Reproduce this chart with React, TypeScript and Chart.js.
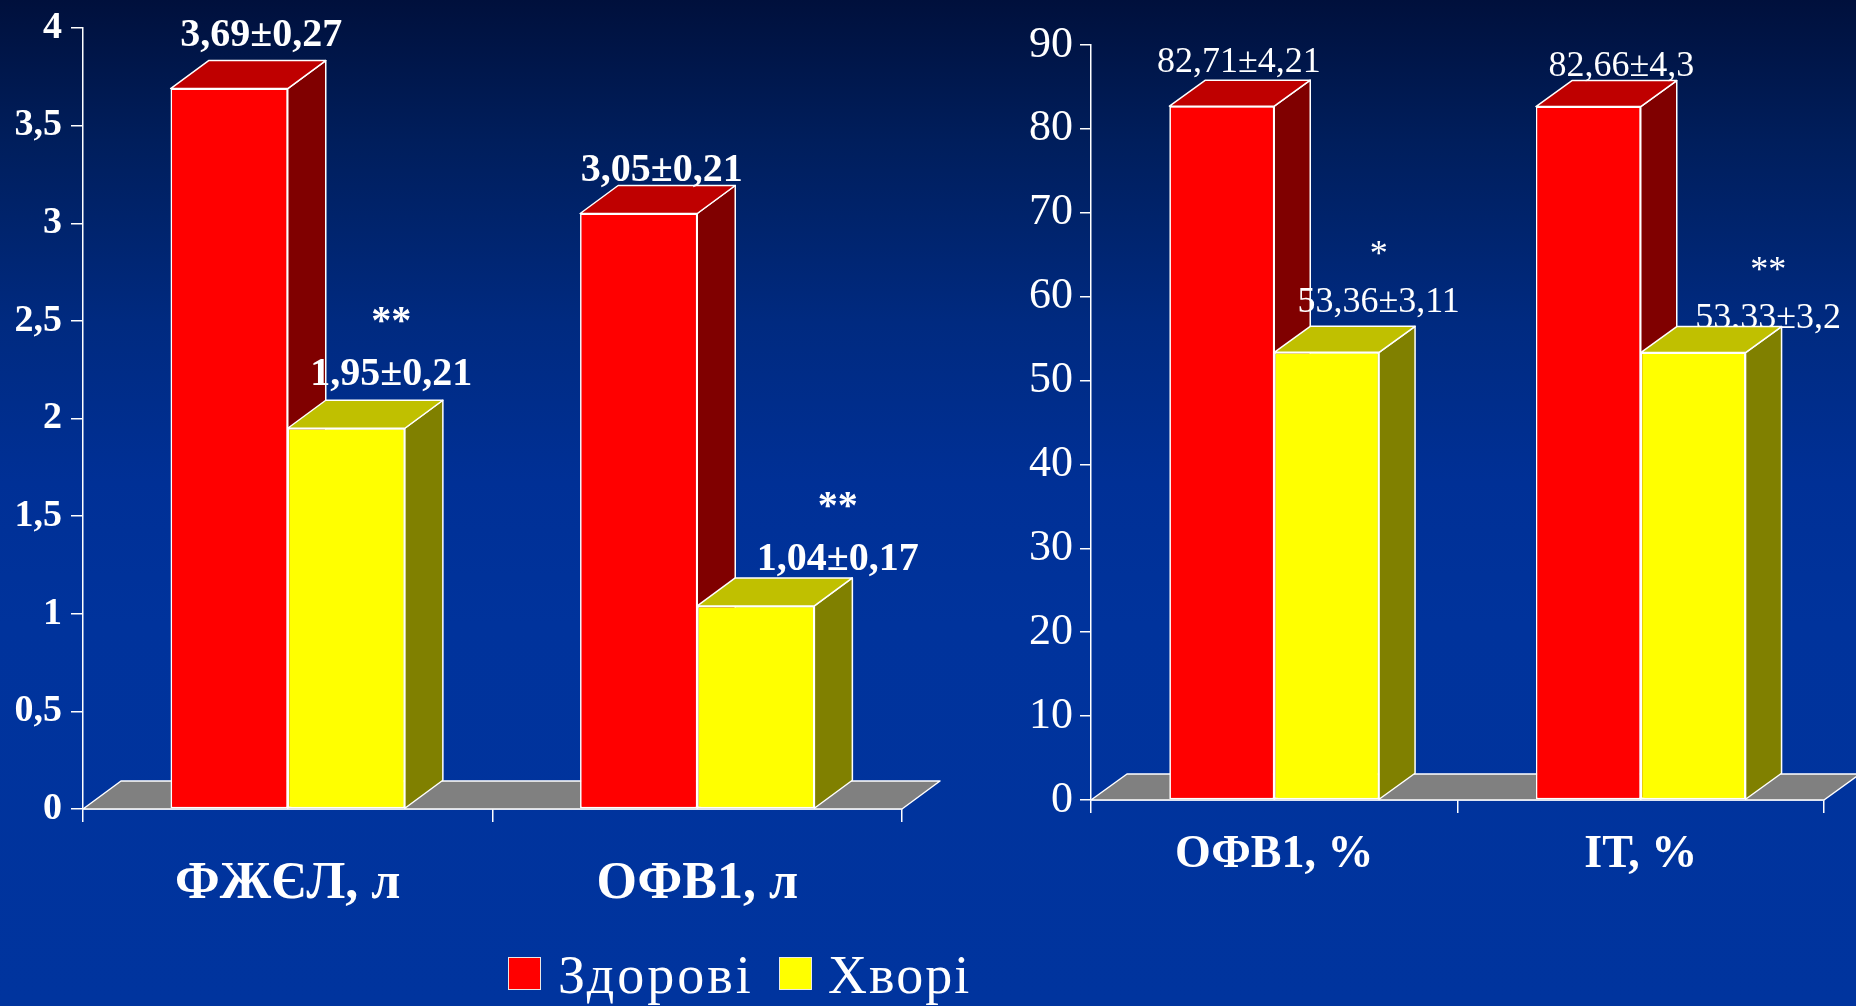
import React, { useEffect, useRef } from 'react';
import { Chart, registerables } from 'chart.js';

Chart.register(...registerables);

// ---- data ----
const seriesNames = ['Здорові', 'Хворі'];

const volumeCategories = ['ФЖЄЛ, л', 'ОФВ1, л'];
const volumeHealthy = [3.69, 3.05];
const volumeHealthySd = [0.27, 0.21];
const volumePatients = [1.95, 1.04];
const volumePatientsSd = [0.21, 0.17];
const volumeSignificance = ['**', '**'];
const volumeScale = { max: 4, step: 0.5 };

const percentCategories = ['ОФВ1, %', 'ІТ, %'];
const percentHealthy = [82.71, 82.66];
const percentHealthySd = [4.21, 4.3];
const percentPatients = [53.36, 53.33];
const percentPatientsSd = [3.11, 3.2];
const percentSignificance = ['*', '**'];
const percentScale = { max: 90, step: 10 };

// ---- styling ----
const SERIF = "'Times New Roman', 'Liberation Serif', serif";
const FRONT = ['#ff0000', '#ffff00'];
const TOP = ['#bf0000', '#c0c000'];
const SIDE = ['#800000', '#808000'];
const FLOOR = '#808080';
const EDGE = '#ffffff';

const comma = (v: number) => String(v).replace('.', ',');

type Panel = {
  categories: string[];
  values: number[][];
  spread: number[][];
  marks: string[];
  max: number;
  step: number;
  canvasW: number;
  canvasH: number;
  yWidth: number;
  xHeight: number;
  pad: { top: number; right: number; bottom: number };
  depth: [number, number];
  bold: boolean;
  tickSize: number;
  yTick: [number, number];
  xTick: [number, number];
  catSize: number;
  labelSize: number;
  // per series, per category nudges of the value captions (px)
  captionShift: number[][];
  captionLift: number[][];
  markGap: number;
};

const volumePanel: Panel = {
  categories: volumeCategories,
  values: [volumeHealthy, volumePatients],
  spread: [volumeHealthySd, volumePatientsSd],
  marks: volumeSignificance,
  max: volumeScale.max,
  step: volumeScale.step,
  canvasW: 960,
  canvasH: 940,
  yWidth: 83,
  xHeight: 121,
  pad: { top: 22, right: 58, bottom: 10 },
  depth: [38, 28],
  bold: true,
  tickSize: 38,
  yTick: [12, 9],
  xTick: [13, 31],
  catSize: 52,
  labelSize: 40,
  captionShift: [[32, 23], [45, 82]],
  captionLift: [[15, 4], [15, 8]],
  markGap: 52,
};

const percentPanel: Panel = {
  categories: percentCategories,
  values: [percentHealthy, percentPatients],
  spread: [percentHealthySd, percentPatientsSd],
  marks: percentSignificance,
  max: percentScale.max,
  step: percentScale.step,
  canvasW: 856,
  canvasH: 940,
  yWidth: 91,
  xHeight: 130,
  pad: { top: 45, right: 32, bottom: 10 },
  depth: [36, 26],
  bold: false,
  tickSize: 44,
  yTick: [11, 7],
  xTick: [13, 15],
  catSize: 46,
  labelSize: 36,
  captionShift: [[17, 33], [52, 75]],
  captionLift: [[8, 5], [14, -1]],
  markGap: 47,
};

function polygon(ctx: CanvasRenderingContext2D, pts: number[][], fill: string) {
  ctx.beginPath();
  ctx.moveTo(pts[0][0], pts[0][1]);
  for (let k = 1; k < pts.length; k++) ctx.lineTo(pts[k][0], pts[k][1]);
  ctx.closePath();
  ctx.fillStyle = fill;
  ctx.fill();
  ctx.strokeStyle = EDGE;
  ctx.lineWidth = 1.5;
  ctx.lineJoin = 'round';
  ctx.stroke();
}

// Floor, box faces and value captions for the pseudo-3D columns.
// Series are painted back-to-front in index order so that each column's
// front face hides the side face of its left-hand neighbour.
function boxPlugin(p: Panel) {
  const [dx, dy] = p.depth;
  const drawCaptions = (chart: any) => {
    const ctx: CanvasRenderingContext2D = chart.ctx;
    ctx.save();
    ctx.fillStyle = '#ffffff';
    ctx.textAlign = 'center';
    ctx.textBaseline = 'alphabetic';
    ctx.font = `${p.bold ? 'bold ' : ''}${p.labelSize}px ${SERIF}`;
    p.values.forEach((series, d) => {
      const meta = chart.getDatasetMeta(d);
      series.forEach((v, j) => {
        const bar = meta.data[j];
        const cx = bar.x + p.captionShift[d][j];
        const base = bar.y - dy - p.captionLift[d][j];
        ctx.fillText(`${comma(v)}±${comma(p.spread[d][j])}`, cx, base);
        if (d === 1 && p.marks[j]) ctx.fillText(p.marks[j], cx, base - p.markGap);
      });
    });
    ctx.restore();
  };
  return {
    id: 'box3d',
    beforeDatasetsDraw(chart: any) {
      const { ctx, chartArea: a } = chart;
      ctx.save();
      polygon(ctx, [
        [a.left, a.bottom],
        [a.left + dx, a.bottom - dy],
        [a.right + dx, a.bottom - dy],
        [a.right, a.bottom],
      ], FLOOR);
      ctx.restore();
    },
    afterDatasetsDraw(chart: any) {
      const ctx: CanvasRenderingContext2D = chart.ctx;
      const last = chart.data.datasets.length - 1;
      ctx.save();
      chart.data.datasets.forEach((_: any, i: number) => {
        if (i === last) drawCaptions(chart);
        chart.getDatasetMeta(i).data.forEach((bar: any) => {
          bar.draw(ctx);
          const { x, y, width, base } = bar.getProps(['x', 'y', 'width', 'base'], true);
          const l = x - width / 2;
          const r = x + width / 2;
          polygon(ctx, [[r, y], [r + dx, y - dy], [r + dx, base - dy], [r, base]], SIDE[i]);
          polygon(ctx, [[l, y], [l + dx, y - dy], [r + dx, y - dy], [r, y]], TOP[i]);
        });
      });
      ctx.restore();
    },
  };
}

function makePanel(canvas: HTMLCanvasElement, p: Panel) {
  const weight = p.bold ? 'bold' : 'normal';
  return new Chart(canvas, {
    type: 'bar',
    data: {
      labels: p.categories,
      datasets: p.values.map((series, d) => ({
        label: seriesNames[d],
        data: series,
        backgroundColor: FRONT[d],
        borderColor: EDGE,
        borderWidth: 1.5,
        borderSkipped: false,
        categoryPercentage: 0.572,
        barPercentage: 1,
      })),
    },
    options: {
      responsive: false,
      animation: false,
      devicePixelRatio: 1,
      layout: { padding: { left: 0, top: p.pad.top, right: p.pad.right, bottom: p.pad.bottom } },
      plugins: {
        legend: { display: false },
        tooltip: { enabled: false },
      },
      scales: {
        x: {
          grid: {
            display: true,
            drawOnChartArea: false,
            drawTicks: true,
            tickLength: p.xTick[0],
            color: EDGE,
            lineWidth: 1.5,
          },
          border: { display: true, color: EDGE, width: 1.5 },
          ticks: {
            color: '#ffffff',
            padding: p.xTick[1],
            maxRotation: 0,
            font: { family: SERIF, size: p.catSize, weight: 'bold' },
          },
          afterFit: (s: any) => {
            s.height = p.xHeight;
          },
        },
        y: {
          min: 0,
          max: p.max,
          grid: {
            display: true,
            drawOnChartArea: false,
            drawTicks: true,
            tickLength: p.yTick[0],
            color: EDGE,
            lineWidth: 1.5,
          },
          border: { display: true, color: EDGE, width: 1.5 },
          ticks: {
            stepSize: p.step,
            color: '#ffffff',
            padding: p.yTick[1],
            font: { family: SERIF, size: p.tickSize, weight, lineHeight: 1 },
            callback: (v: any) => comma(Number(v)),
          },
          afterFit: (s: any) => {
            s.width = p.yWidth;
          },
        },
      },
    },
    plugins: [boxPlugin(p)],
  } as any);
}

const legendText: React.CSSProperties = {
  position: 'absolute',
  top: 948,
  fontFamily: SERIF,
  fontSize: 54,
  lineHeight: '54px',
  color: '#ffffff',
  whiteSpace: 'nowrap',
};

const legendSwatch = (left: number, color: string): React.CSSProperties => ({
  position: 'absolute',
  left,
  top: 957,
  width: 33,
  height: 33,
  background: color,
  border: '1px solid #e8e8e8',
  boxSizing: 'border-box',
});

export default function App() {
  const leftRef = useRef<HTMLCanvasElement>(null);
  const rightRef = useRef<HTMLCanvasElement>(null);

  useEffect(() => {
    const charts = [
      makePanel(leftRef.current as HTMLCanvasElement, volumePanel),
      makePanel(rightRef.current as HTMLCanvasElement, percentPanel),
    ];
    return () => charts.forEach((c) => c.destroy());
  }, []);

  return (
    <div
      style={{
        position: 'fixed',
        left: 0,
        top: 0,
        width: 1856,
        height: 1006,
        overflow: 'hidden',
        background:
          'linear-gradient(180deg, #00103c 0%, #001e5c 14%, #002a80 32%, #003096 48%, #00339c 62%, #00349e 100%)',
      }}
    >
      <canvas
        ref={leftRef}
        width={volumePanel.canvasW}
        height={volumePanel.canvasH}
        style={{ position: 'absolute', left: 0, top: 0 }}
      />
      <canvas
        ref={rightRef}
        width={percentPanel.canvasW}
        height={percentPanel.canvasH}
        style={{ position: 'absolute', left: 1000, top: 0 }}
      />
      <div style={legendSwatch(508, FRONT[0])} />
      <div style={{ ...legendText, left: 558, letterSpacing: 3 }}>{seriesNames[0]}</div>
      <div style={legendSwatch(779, FRONT[1])} />
      <div style={{ ...legendText, left: 828, letterSpacing: 2 }}>{seriesNames[1]}</div>
    </div>
  );
}
